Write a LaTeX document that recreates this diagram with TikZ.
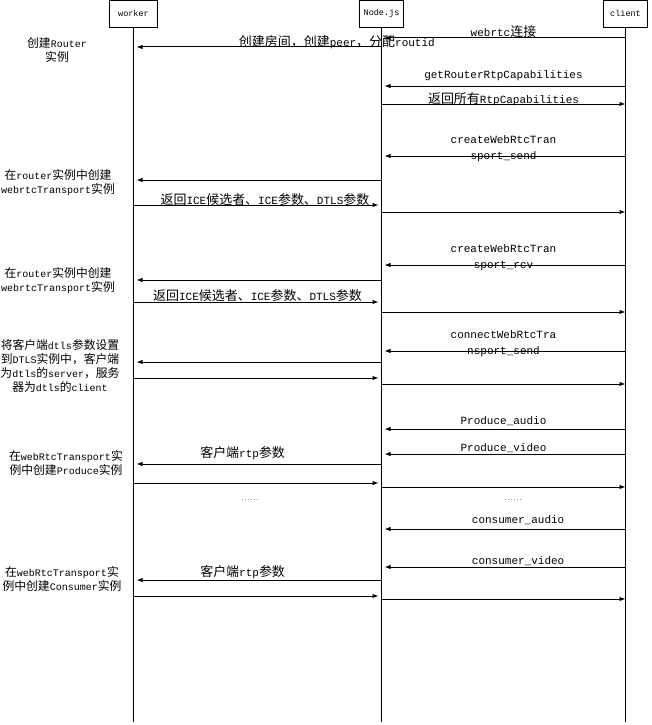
\documentclass[tikz,border=0pt]{standalone}
\usepackage{fontspec}
\setmainfont{Liberation Mono}
\newfontfamily\zh[Scale=1.18]{Noto Sans CJK SC}
\usetikzlibrary{arrows.meta}

\begin{document}
\begin{tikzpicture}[x=1pt,y=-1pt,
		head/.style={draw,line width=1pt,minimum width=44pt,minimum height=26.6pt,inner sep=0pt,font=\fontsize{8.5}{10}\selectfont},
		life/.style={line width=1pt},
		msg/.style={line width=1pt,-{Latex[length=6pt,width=4.5pt]}},
		back/.style={msg,shorten >=3pt},
		lbl/.style={font=\fontsize{11}{16}\selectfont,inner sep=0pt,align=center},
		note/.style={font=\fontsize{10}{14}\selectfont,inner sep=0pt,align=center},
		dots/.style={font=\fontsize{5}{6}\selectfont,inner sep=0pt}]
	\useasboundingbox (0,0) rectangle (652,725);
	% heads and lifelines
	\node[head,minimum width=48pt] (worker) at (133.5,13.8) {worker};
	\node[head] (nodejs) at (381.5,13.8) {Node.js};
	\node[head] (client) at (625.5,13.8) {client};
	\foreach \n in {worker,nodejs,client} {
		\coordinate (\n-end) at (\n |- 0,722);
		\draw[life] (\n.south) -- (\n-end);
	}
	% client -> Node.js
	\draw[back] (client |- 0,38) -- (nodejs |- 0,38) node[lbl,midway,yshift=6pt] {webrtc{\zh 连接}};
	\draw[back] (client |- 0,86) -- (nodejs |- 0,86) node[lbl,midway,yshift=10pt] {getRouterRtpCapabilities};
	\draw[back] (client |- 0,156) -- (nodejs |- 0,156) node[lbl,midway,yshift=7pt] {createWebRtcTran\\sport\_send};
	\draw[back] (client |- 0,265) -- (nodejs |- 0,265) node[lbl,midway,yshift=7pt] {createWebRtcTran\\sport\_rcv};
	\draw[back] (client |- 0,351) -- (nodejs |- 0,351) node[lbl,midway,yshift=7pt] {connectWebRtcTra\\nsport\_send};
	\draw[back] (client |- 0,429) -- (nodejs |- 0,429) node[lbl,midway,yshift=8pt] {Produce\_audio};
	\draw[back] (client |- 0,454) -- (nodejs |- 0,454) node[lbl,midway,yshift=6pt] {Produce\_video};
	\draw[back] (client |- 0,529) -- (nodejs |- 0,529) node[lbl,pos=0.44,yshift=9pt] {consumer\_audio};
	\draw[back] (client |- 0,567) -- (nodejs |- 0,567) node[lbl,pos=0.44,yshift=6pt] {consumer\_video};
	% Node.js -> client
	\draw[msg] (nodejs |- 0,104) -- (client |- 0,104) node[lbl,midway,yshift=5pt] {{\zh 返回所有}RtpCapabilities};
	\foreach \y in {212,312,384,487,599}
		\draw[msg] (nodejs |- 0,\y) -- (client |- 0,\y);
	% Node.js -> worker
	\draw[back] (nodejs |- 0,47) -- (worker |- 0,47) node[lbl,pos=0.18,yshift=5pt] {{\zh 创建房间，创建}peer{\zh ，分配}routid};
	\draw[back] (nodejs |- 0,464) -- (worker |- 0,464) node[lbl,pos=0.56,yshift=11pt] {{\zh 客户端}rtp{\zh 参数}};
	\draw[back] (nodejs |- 0,580) -- (worker |- 0,580) node[lbl,pos=0.56,yshift=8pt] {{\zh 客户端}rtp{\zh 参数}};
	\foreach \y in {180,280,362}
		\draw[back] (nodejs |- 0,\y) -- (worker |- 0,\y);
	% worker -> Node.js
	\draw[back] (worker |- 0,205) -- (nodejs |- 0,205) node[lbl,pos=0.53,yshift=5pt] {{\zh 返回}ICE{\zh 候选者、}ICE{\zh 参数、}DTLS{\zh 参数}};
	\draw[back] (worker |- 0,302) -- (nodejs |- 0,302) node[lbl,midway,yshift=6pt] {{\zh 返回}ICE{\zh 候选者、}ICE{\zh 参数、}DTLS{\zh 参数}};
	\foreach \y in {378,483,596}
		\draw[back] (worker |- 0,\y) -- (nodejs |- 0,\y);
	% omitted messages
	\node[dots] (dots1) at (250,500) {......};
	\node[dots] (dots2) at (513,500) {......};
	% notes beside the worker
	\node[note] (note1) at (57,50) {{\zh 创建}Router\\{\zh 实例}};
	\node[note] (note2) at (58,183) {{\zh 在}router{\zh 实例中创建}\\webrtcTransport{\zh 实例}};
	\node[note] (note3) at (58,281) {{\zh 在}router{\zh 实例中创建}\\webrtcTransport{\zh 实例}};
	\node[note] (note4) at (60,366) {{\zh 将客户端}dtls{\zh 参数设置}\\{\zh 到}DTLS{\zh 实例中，客户端}\\{\zh 为}dtls{\zh 的}server{\zh ，服务}\\{\zh 器为}dtls{\zh 的}client};
	\node[note] (note5) at (66,463) {{\zh 在}webRtcTransport{\zh 实}\\{\zh 例中创建}Produce{\zh 实例}};
	\node[note] (note6) at (62,579) {{\zh 在}webRtcTransport{\zh 实}\\{\zh 例中创建}Consumer{\zh 实例}};
\end{tikzpicture}
\end{document}
